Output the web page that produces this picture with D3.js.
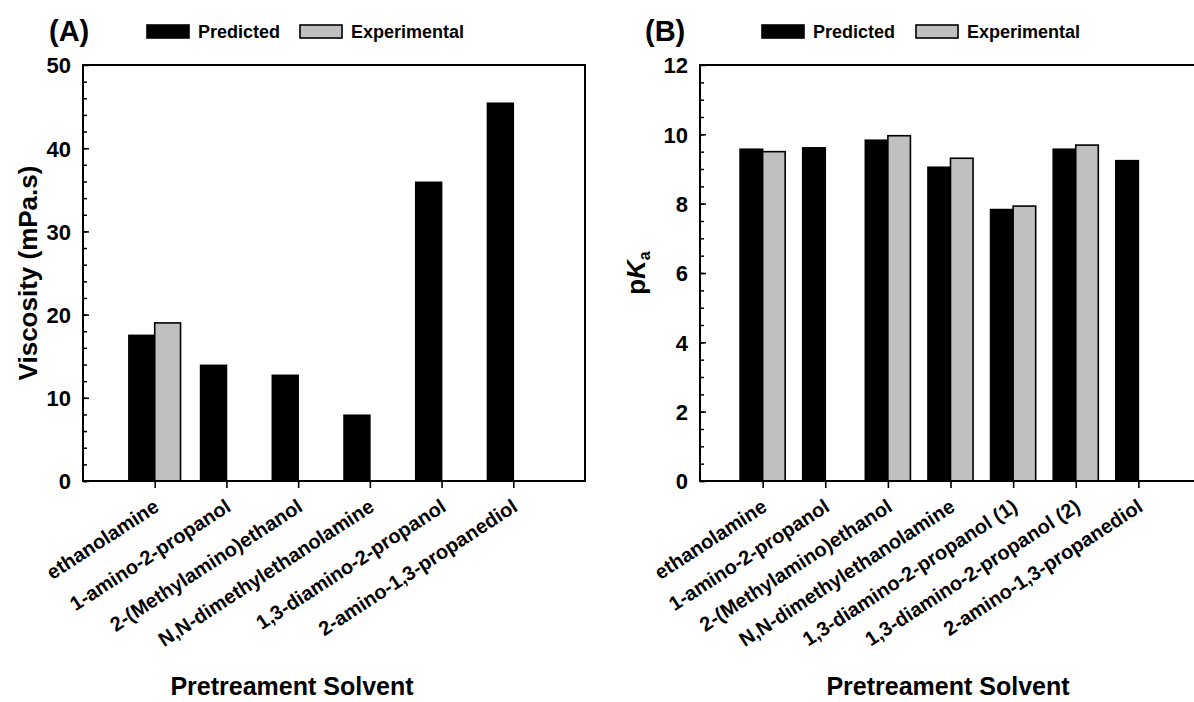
<!DOCTYPE html>
<html>
<head>
<meta charset="utf-8">
<script src="https://cdn.jsdelivr.net/npm/d3@7"></script>
<style>
    html, body { margin: 0; padding: 0; background: #fff; }
    svg text { font-family: "Liberation Sans", Arial, sans-serif; font-weight: bold; fill: #000; }
</style>
</head>
<body>
<div id="chart"></div>
<script>
const WIDTH  = 1194;
const HEIGHT = 702;

// Panel (A) - viscosity
const categoriesA   = ["ethanolamine", "1-amino-2-propanol", "2-(Methylamino)ethanol", "N,N-dimethylethanolamine", "1,3-diamino-2-propanol", "2-amino-1,3-propanediol"];
const predictedA    = [17.5, 13.9, 12.7, 7.9, 35.9, 45.4];
const experimentalA = [19.0, null, null, null, null, null];
const ticksA        = [0, 10, 20, 30, 40, 50];

// Panel (B) - pKa
const categoriesB   = ["ethanolamine", "1-amino-2-propanol", "2-(Methylamino)ethanol", "N,N-dimethylethanolamine", "1,3-diamino-2-propanol (1)", "1,3-diamino-2-propanol (2)", "2-amino-1,3-propanediol"];
const predictedB    = [9.57, 9.61, 9.83, 9.05, 7.83, 9.57, 9.24];
const experimentalB = [9.50, null, 9.96, 9.31, 7.93, 9.69, null];
const ticksB        = [0, 2, 4, 6, 8, 10, 12];

const seriesNames = ["Predicted", "Experimental"];
const seriesFill  = ["#000000", "#c0c0c0"];

const svg = d3.select("#chart")
    .append("svg")
    .attr("width", WIDTH)
    .attr("height", HEIGHT);

/**
 * Draws one bar panel with its frame, axes, labels and legend.
 */
class BarPanel
{
    constructor(parent, options)
    {
        this._parent  = parent;
        this._options = options;
    }

    draw()
    {
        const o = this._options;
        const g = this._parent.append("g");

        // Categories sit on 1..n, frame spans 0..n+1
        const x = d3.scaleLinear()
            .domain([0, o.categories.length + 1])
            .range([o.left, o.right]);

        const y = d3.scaleLinear()
            .domain([0, o.ticks[o.ticks.length - 1]])
            .range([o.bottom, o.top]);

        const barWidth = (x(1) - x(0)) * 0.36;
        const idx      = o.categories.map((c, i) => i);

        // Bars: predicted left of the tick, experimental right of it
        const bars = [];
        idx.forEach((i) => {
            if (o.predicted[i] !== null) {
                bars.push({ x0: x(i + 1) - barWidth, v: o.predicted[i], s: 0 });
            }
            if (o.experimental[i] !== null) {
                bars.push({ x0: x(i + 1), v: o.experimental[i], s: 1 });
            }
        });

        g.selectAll("rect.bar")
            .data(bars)
            .enter()
            .append("rect")
            .attr("class", "bar")
            .attr("x", (d) => d.x0)
            .attr("y", (d) => y(d.v))
            .attr("width", barWidth)
            .attr("height", (d) => y(0) - y(d.v))
            .attr("fill", (d) => seriesFill[d.s])
            .attr("stroke", "#000")
            .attr("stroke-width", 1.6);

        // Minor y ticks (inward)
        g.append("g")
            .attr("transform", "translate(" + o.left + ",0)")
            .call(d3.axisLeft(y).tickValues(d3.range(0, o.ticks[o.ticks.length - 1], o.minor)).tickSize(-4).tickFormat(""))
            .call((a) => a.select(".domain").remove())
            .selectAll("line").attr("stroke-width", 1.5);

        // Major y ticks with labels
        const yAxis = g.append("g")
            .attr("transform", "translate(" + o.left + ",0)")
            .call(d3.axisLeft(y).tickValues(o.ticks).tickSize(-6).tickPadding(12));

        yAxis.select(".domain").remove();
        yAxis.selectAll("line").attr("stroke-width", 1.5);
        yAxis.selectAll("text")
            .style("font-size", "22px")
            .attr("dy", "0.36em");

        // Category ticks (outward)
        const xAxis = g.append("g")
            .attr("transform", "translate(0," + o.bottom + ")")
            .call(d3.axisBottom(x).tickValues(idx.map((i) => i + 1)).tickSize(7).tickFormat(""));

        xAxis.select(".domain").remove();
        xAxis.selectAll("line").attr("stroke-width", 1.6);

        g.selectAll("text.cat")
            .data(o.categories)
            .enter()
            .append("text")
            .attr("class", "cat")
            .attr("transform", (d, i) => "translate(" + (x(i + 1) - 2) + "," + (o.bottom + 17) + ") rotate(-33)")
            .attr("text-anchor", "end")
            .attr("dy", "0.71em")
            .style("font-size", "20px")
            .text((d) => d);

        // Frame
        g.append("rect")
            .attr("x", o.left)
            .attr("y", o.top)
            .attr("width", o.right - o.left)
            .attr("height", o.bottom - o.top)
            .attr("fill", "none")
            .attr("stroke", "#000")
            .attr("stroke-width", 2);

        // Axis titles
        g.append("text")
            .attr("x", o.titleX)
            .attr("y", 695)
            .attr("text-anchor", "middle")
            .style("font-size", "25px")
            .text("Pretreament Solvent");

        const yTitle = g.append("text")
            .attr("transform", "translate(" + o.yTitleX + "," + ((o.top + o.bottom) / 2) + ") rotate(-90)")
            .attr("text-anchor", "middle")
            .style("font-size", "26px");
        o.yTitle(yTitle);

        // Panel letter
        g.append("text")
            .attr("x", o.letterX)
            .attr("y", 41)
            .style("font-size", "29px")
            .text(o.letter);

        // Legend
        const legend = g.append("g")
            .attr("transform", "translate(" + (o.left + o.legendDx) + ",25)");

        seriesNames.forEach((name, i) => {
            const lx = i * o.legendGap;

            legend.append("rect")
                .attr("x", lx)
                .attr("y", 0)
                .attr("width", 42)
                .attr("height", 13)
                .attr("fill", seriesFill[i])
                .attr("stroke", "#000")
                .attr("stroke-width", 1.6);

            legend.append("text")
                .attr("x", lx + 51)
                .attr("y", 13)
                .style("font-size", "18px")
                .text(name);
        });
    }
}

new BarPanel(svg, {
    categories:   categoriesA,
    predicted:    predictedA,
    experimental: experimentalA,
    ticks:        ticksA,
    minor:        2,
    left:   83,
    right:  585,
    top:    65,
    bottom: 481,
    titleX:  292,
    yTitleX: 37,
    yTitle:  (t) => t.text("Viscosity (mPa.s)"),
    letter:  "(A)",
    letterX: 49,
    legendDx:  64,
    legendGap: 153
}).draw();

new BarPanel(svg, {
    categories:   categoriesB,
    predicted:    predictedB,
    experimental: experimentalB,
    ticks:        ticksB,
    minor:        0.5,
    left:   700,
    right:  1201,
    top:    65,
    bottom: 481,
    titleX:  948,
    yTitleX: 645,
    yTitle:  (t) => {
        t.append("tspan").text("p");
        t.append("tspan").style("font-style", "italic").text("K");
        t.append("tspan").attr("dy", "0.3em").style("font-size", "16px").text("a");
    },
    letter:  "(B)",
    letterX: 645,
    legendDx:  62,
    legendGap: 154
}).draw();
</script>
</body>
</html>
